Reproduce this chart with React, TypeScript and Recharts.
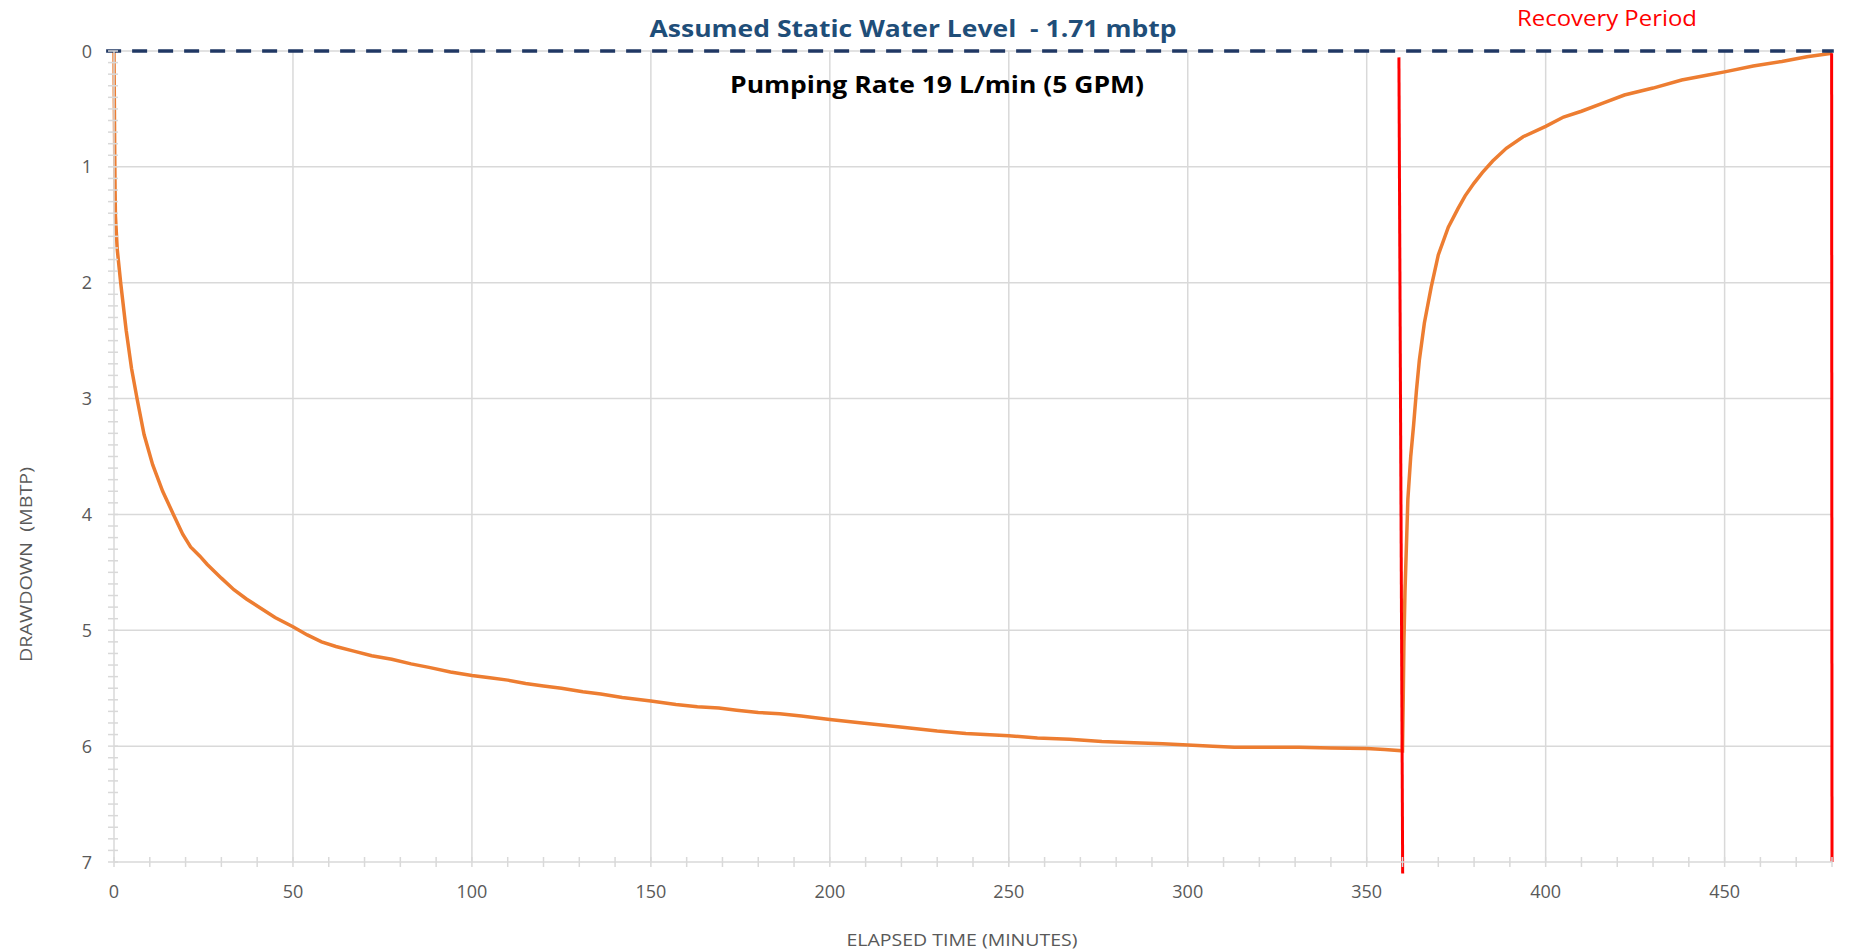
import React from 'react';
import { LineChart, Line, XAxis, YAxis, CartesianGrid, ReferenceLine } from 'recharts';

// pumping phase, elapsed minutes vs drawdown (m)
const pumpTime = [
  0, 0.1, 0.2, 0.3, 0.4, 0.9, 1.9, 3.4, 4.9, 6.5, 8.4, 10.8, 13.6, 16.6, 19.2, 21.4, 24, 26, 30, 33.5,
  37, 41, 45, 50, 54, 58, 62, 67, 72, 77.6, 83, 88, 94, 100, 105, 110, 115, 120, 125, 131,
  136, 142, 150, 157, 163, 169, 174, 180, 186, 192, 200, 209, 215, 221, 230, 238, 250, 258, 267, 276,
  285, 293, 300, 307, 313, 322, 331, 340, 350, 355, 360,
];
const pumpDrawdown = [
  0, 0.45, 0.88, 1.2, 1.42, 1.71, 2.01, 2.41, 2.74, 3.01, 3.31, 3.57, 3.8, 4.0, 4.17, 4.28, 4.36, 4.43, 4.55, 4.65,
  4.73, 4.81, 4.89, 4.97, 5.04, 5.1, 5.14, 5.18, 5.22, 5.25, 5.29, 5.32, 5.36, 5.39, 5.41, 5.43, 5.46, 5.48, 5.5, 5.53,
  5.55, 5.58, 5.61, 5.64, 5.66, 5.67, 5.69, 5.71, 5.72, 5.74, 5.77, 5.8, 5.82, 5.84, 5.87, 5.89, 5.91, 5.93, 5.94, 5.96,
  5.97, 5.98, 5.99, 6.0, 6.01, 6.01, 6.01, 6.015, 6.02, 6.03, 6.04,
];

// recovery phase
const recoveryTime = [
  360.2, 360.4, 360.7, 361.5, 362.3, 363.1, 363.9, 364.7, 366.1, 368, 370, 372.8, 375.5, 377.5, 380, 382.3, 385.2, 389, 393.7, 400,
  405, 410, 416, 422, 430, 438, 445, 450, 458, 466, 473, 480,
];
const recoveryDrawdown = [
  5.6, 5.1, 4.66, 3.87, 3.5, 3.23, 2.93, 2.67, 2.35, 2.04, 1.76, 1.52, 1.36, 1.25, 1.14, 1.05, 0.95, 0.84, 0.74, 0.65,
  0.57, 0.52, 0.45, 0.38, 0.32, 0.25, 0.21, 0.18, 0.13, 0.09, 0.05, 0.02,
];

const staticLevel = [{ x: -2.2, y: 0 }, { x: 480.5, y: 0 }];
const pumpEnd = [{ x: 359.0, y: 0.055 }, { x: 360.05, y: 7.1 }];
const recoveryEnd = [{ x: 479.9, y: 0.02 }, { x: 480, y: 7.0 }];

const xTicks = Array.from({ length: 49 }, (_, i) => i * 10);
const yTicks = Array.from({ length: 71 }, (_, i) => i / 10);
const xGrid = [50, 100, 150, 200, 250, 300, 350, 400, 450];
const yGrid = [0, 1, 2, 3, 4, 5, 6];

const data = [
  ...pumpTime.map((t, i) => ({ t, d: pumpDrawdown[i] })),
  ...recoveryTime.map((t, i) => ({ t, d: recoveryDrawdown[i] })),
];

const GRID = '#d9d9d9';
const LABEL = '#595959';
const FONT = '"Open Sans", sans-serif';

const XTick = (props: any) => {
  const { x, y, payload } = props;
  const v = payload.value;
  return (
    <g>
      <line x1={x} x2={x} y1={y - 5} y2={y + 5} stroke={GRID} strokeWidth={1.5} />
      {v % 50 === 0 && (
        <text x={x} y={y + 36} textAnchor="middle" fill={LABEL} fontSize={18} fontFamily={FONT}>
          {v}
        </text>
      )}
    </g>
  );
};

const YTick = (props: any) => {
  const { x, y, payload } = props;
  const v = payload.value;
  const major = Math.abs(v - Math.round(v)) < 1e-6;
  return (
    <g>
      <line x1={x - 6} x2={x + 4} y1={y} y2={y} stroke={GRID} strokeWidth={1.5} />
      {major && (
        <text x={x - 22} y={y + 6.5} textAnchor="end" fill={LABEL} fontSize={18} fontFamily={FONT}>
          {Math.round(v)}
        </text>
      )}
    </g>
  );
};

export default function App() {
  return (
    <div style={{ position: 'relative', width: 1835, height: 943 }}>
      <LineChart width={1835} height={943} data={data} margin={{ top: 43, right: 11, left: 46, bottom: 49 }}>
        <CartesianGrid stroke={GRID} strokeWidth={1.5} horizontalValues={yGrid} verticalValues={xGrid} />
        <XAxis
          dataKey="t"
          type="number"
          domain={[0, 480]}
          ticks={xTicks}
          interval={0}
          height={40}
          tickSize={0}
          tickMargin={0}
          tickLine={false}
          axisLine={{ stroke: GRID, strokeWidth: 1.5 }}
          tick={XTick}
        />
        <YAxis
          type="number"
          reversed
          domain={[0, 7]}
          ticks={yTicks}
          interval={0}
          width={60}
          tickSize={0}
          tickMargin={0}
          tickLine={false}
          axisLine={{ stroke: GRID, strokeWidth: 1.5 }}
          tick={YTick}
        />
        <Line
          dataKey="d"
          type="linear"
          stroke="#ED7D31"
          strokeWidth={3.5}
          dot={false}
          isAnimationActive={false}
        />
        <ReferenceLine segment={pumpEnd} stroke="#FF0000" strokeWidth={3} ifOverflow="visible" />
        <ReferenceLine segment={recoveryEnd} stroke="#FF0000" strokeWidth={3} ifOverflow="visible" />
        <ReferenceLine
          segment={staticLevel}
          stroke="#203864"
          strokeWidth={3.5}
          strokeDasharray="15 11"
          ifOverflow="visible"
        />
      </LineChart>
      <svg
        width={1835}
        height={943}
        style={{ position: 'absolute', left: 0, top: 0, pointerEvents: 'none', overflow: 'visible' }}
      >
        <text x={905} y={29} textAnchor="middle" fill="#1F4E79" fontSize={23} fontWeight="bold" fontFamily={FONT}
          textLength={527} lengthAdjust="spacingAndGlyphs" style={{ whiteSpace: 'pre' }}>
          Assumed Static Water Level  - 1.71 mbtp
        </text>
        <text x={929} y={85} textAnchor="middle" fill="#000000" fontSize={24} fontWeight="bold" fontFamily={FONT}
          textLength={414} lengthAdjust="spacingAndGlyphs">
          Pumping Rate 19 L/min (5 GPM)
        </text>
        <text x={1599} y={18} textAnchor="middle" fill="#FF0000" fontSize={22} fontFamily={FONT}
          textLength={180} lengthAdjust="spacingAndGlyphs">
          Recovery Period
        </text>
        <text x={954} y={938} textAnchor="middle" fill={LABEL} fontSize={17} fontFamily={FONT}
          textLength={231} lengthAdjust="spacingAndGlyphs">
          ELAPSED TIME (MINUTES)
        </text>
        <text transform="translate(23.5, 556.5) rotate(-90)" x={0} y={0} textAnchor="middle" fill={LABEL}
          fontSize={17} fontFamily={FONT} textLength={195} lengthAdjust="spacingAndGlyphs"
          style={{ whiteSpace: 'pre' }}>
          DRAWDOWN  (MBTP)
        </text>
      </svg>
    </div>
  );
}
